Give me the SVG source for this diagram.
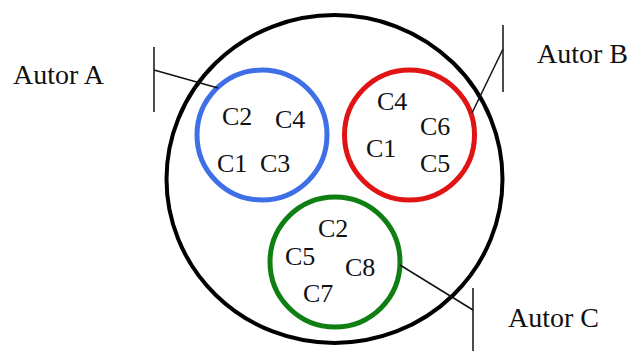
<svg xmlns="http://www.w3.org/2000/svg" width="628" height="351" viewBox="0 0 628 351">
<style>
.lbl{font-family:"Liberation Serif","Times New Roman",serif;font-size:28px;fill:#111}
.c{font-family:"Liberation Serif","Times New Roman",serif;font-size:26px;fill:#111}
.ln{stroke:#111;stroke-width:1.5;fill:none}
.ring{fill:none;stroke-width:5}
</style>
<rect width="628" height="351" fill="#fff"/>
<g id="outer"><ellipse cx="334.5" cy="179" rx="168" ry="164" fill="none" stroke="#000" stroke-width="4"/></g>
<g id="circleA">
<circle cx="262" cy="135" r="65" class="ring" stroke="#3f6fe6"/>
<text class="c" x="222" y="125">C2</text>
<text class="c" x="275" y="128">C4</text>
<text class="c" x="217" y="172">C1</text>
<text class="c" x="260" y="172">C3</text>
</g>
<g id="circleB">
<circle cx="409.5" cy="135" r="65" class="ring" stroke="#e01414"/>
<text class="c" x="377" y="110">C4</text>
<text class="c" x="420" y="135">C6</text>
<text class="c" x="366" y="157">C1</text>
<text class="c" x="420" y="172">C5</text>
</g>
<g id="circleC">
<circle cx="335" cy="262" r="65" class="ring" stroke="#0f7f14"/>
<text class="c" x="318" y="237">C2</text>
<text class="c" x="285" y="265">C5</text>
<text class="c" x="345" y="276">C8</text>
<text class="c" x="303" y="302">C7</text>
</g>
<g id="labelA"><text class="lbl" x="13" y="84">Autor A</text></g>
<g id="labelB"><text class="lbl" x="537" y="63">Autor B</text></g>
<g id="labelC"><text class="lbl" x="508" y="327">Autor C</text></g>
<g id="connectors">
<line class="ln" x1="154" y1="47" x2="154" y2="112"/>
<line class="ln" x1="154" y1="70" x2="218" y2="88"/>
<line class="ln" x1="503" y1="25" x2="503" y2="92"/>
<line class="ln" x1="503" y1="49" x2="472" y2="113"/>
<line class="ln" x1="473" y1="288" x2="473" y2="351"/>
<line class="ln" x1="400" y1="265" x2="473" y2="310"/>
</g>
</svg>
